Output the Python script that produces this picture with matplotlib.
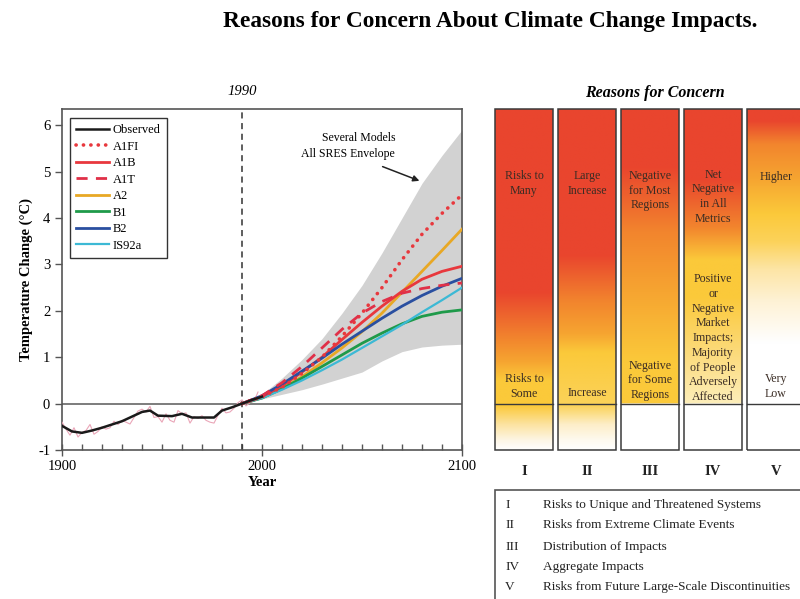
import numpy as np
import matplotlib
matplotlib.use("Agg")
import matplotlib.pyplot as plt
from matplotlib.colors import to_rgb
from matplotlib.patches import Rectangle

plt.rcParams['font.family'] = ['Liberation Serif', 'DejaVu Serif']
plt.rcParams['axes.unicode_minus'] = False

# ---------------- data ----------------
obs_years = [1900, 1905, 1910, 1915, 1920, 1925, 1930, 1935, 1940, 1944, 1948,
             1955, 1960, 1965, 1970, 1976, 1980, 1985, 1990, 1995, 2000]
obs_smooth = [-0.48, -0.60, -0.63, -0.58, -0.52, -0.45, -0.38, -0.28, -0.18, -0.15, -0.26,
              -0.27, -0.22, -0.30, -0.30, -0.30, -0.15, -0.08, 0.00, 0.08, 0.15]

annual_years = list(range(1900, 2000, 2))
annual_vals = [-0.40, -0.55, -0.68, -0.52, -0.72, -0.62, -0.58, -0.45, -0.66, -0.60,
               -0.50, -0.55, -0.52, -0.38, -0.45, -0.36, -0.40, -0.44, -0.30, -0.16,
               -0.12, -0.18, -0.06, -0.30, -0.28, -0.40, -0.22, -0.36, -0.40, -0.15,
               -0.22, -0.20, -0.42, -0.28, -0.32, -0.26, -0.36, -0.40, -0.42, -0.25,
               -0.10, -0.20, -0.18, -0.10, 0.02, 0.08, -0.05, 0.02, 0.05, 0.25]

proj_years = [1990, 2000, 2010, 2020, 2030, 2040, 2050, 2060, 2070, 2080, 2090, 2100]
a1fi = [0, 0.15, 0.35, 0.65, 1.00, 1.45, 1.95, 2.50, 3.10, 3.65, 4.10, 4.50]
a1b = [0, 0.15, 0.38, 0.68, 1.00, 1.38, 1.75, 2.10, 2.42, 2.68, 2.85, 2.96]
a1t = [0, 0.17, 0.45, 0.80, 1.20, 1.60, 1.95, 2.20, 2.38, 2.48, 2.55, 2.60]
a2 = [0, 0.13, 0.33, 0.58, 0.88, 1.20, 1.55, 1.95, 2.40, 2.85, 3.30, 3.76]
b1 = [0, 0.12, 0.32, 0.55, 0.80, 1.05, 1.30, 1.52, 1.72, 1.88, 1.97, 2.02]
b2 = [0, 0.17, 0.42, 0.70, 0.98, 1.28, 1.56, 1.84, 2.10, 2.33, 2.53, 2.70]
is92a = [0, 0.12, 0.30, 0.50, 0.72, 0.95, 1.20, 1.45, 1.70, 1.97, 2.23, 2.50]

env_upper = [0, 0.20, 0.55, 0.95, 1.40, 1.95, 2.55, 3.25, 4.00, 4.75, 5.35, 5.90]
env_lower = [0, 0.10, 0.20, 0.30, 0.42, 0.55, 0.68, 0.92, 1.12, 1.22, 1.26, 1.28]

columns = ['I', 'II', 'III', 'IV', 'V']
upper_labels = ['Risks to\nMany', 'Large\nIncrease', 'Negative\nfor Most\nRegions',
                'Net\nNegative\nin All\nMetrics', 'Higher']
upper_label_y = [4.74, 4.74, 4.59, 4.46, 4.89]
lower_labels = ['Risks to\nSome', 'Increase', 'Negative\nfor Some\nRegions',
                'Positive\nor\nNegative\nMarket\nImpacts;\nMajority\nof People\nAdversely\nAffected',
                'Very\nLow']
lower_label_y = [0.37, 0.22, 0.50, 1.41, 0.37]
reason_names = ['Risks to Unique and Threatened Systems',
                'Risks from Extreme Climate Events',
                'Distribution of Impacts',
                'Aggregate Impacts',
                'Risks from Future Large-Scale Discontinuities']

# ---------------- figure ----------------
fig = plt.figure(figsize=(8, 5.99), dpi=100)
YLIM = (-1, 6.35)

def fy(p):
    return 1 - p / 599.0

ax = fig.add_axes([62 / 800, fy(450), 400 / 800, 341 / 599])
ax.set_xlim(1900, 2100)
ax.set_ylim(*YLIM)

ax.fill_between(proj_years, env_lower, env_upper, color='#d2d2d2', lw=0, zorder=1)
ax.axhline(0, color='#666666', lw=1.2, zorder=2)
ax.axvline(1990, color='#333333', lw=1.1, dashes=(4, 3), zorder=2)

ax.plot(annual_years, annual_vals, color='#eaa6b8', lw=0.8, zorder=3)
ax.plot(obs_years, obs_smooth, color='#1a1a1a', lw=1.8, label='Observed', zorder=8)
ax.plot(proj_years, a1fi, color='#e8383d', lw=2.6, ls=(0, (0.05, 2.0)),
        dash_capstyle='round', label='A1FI', zorder=6)
ax.plot(proj_years, a1b, color='#e8383d', lw=2, label='A1B', zorder=5)
ax.plot(proj_years, a1t, color='#e03048', lw=2, dashes=(4, 3), label='A1T', zorder=6)
ax.plot(proj_years, a2, color='#e8a825', lw=2, label='A2', zorder=4)
ax.plot(proj_years, b1, color='#1f9a4a', lw=2, label='B1', zorder=4)
ax.plot(proj_years, b2, color='#2a4fa0', lw=2, label='B2', zorder=5)
ax.plot(proj_years, is92a, color='#3cb9d5', lw=1.6, label='IS92a', zorder=4)

leg = ax.legend(loc='upper left', bbox_to_anchor=(0.02, 0.974), borderaxespad=0,
                fontsize=9, handlelength=2.6, labelspacing=0.36, frameon=True,
                fancybox=False, edgecolor='#333333', framealpha=1, handletextpad=0.3,
                borderpad=0.5)
leg.get_frame().set_linewidth(1.0)

ax.annotate('', xy=(2080, 4.78), xytext=(2059, 5.13),
            arrowprops=dict(arrowstyle='-|>', color='#222222', lw=1.1, mutation_scale=9))
ax.text(2066.5, 5.72, 'Several Models', ha='right', va='center', fontsize=8.5)
ax.text(2066.5, 5.39, 'All SRES Envelope', ha='right', va='center', fontsize=8.5)

for s in ax.spines.values():
    s.set_color('#555555')
    s.set_linewidth(1.2)
ax.set_xticks([1900, 2000, 2100])
ax.set_xticks(list(range(1900, 2101, 10)), minor=True)
ax.set_yticks(list(range(-1, 7)))
ax.tick_params(axis='x', which='major', direction='inout', length=8, width=1,
               color='#555555', labelsize=10.5, pad=3)
ax.tick_params(axis='x', which='minor', direction='in', length=4, width=1, color='#555555')
ax.tick_params(axis='y', direction='out', length=5, width=1, color='#555555', labelsize=10.5)
ax.set_xlabel('Year', fontsize=10.5, fontweight='bold', labelpad=2)
ax.set_ylabel('Temperature Change (°C)', fontsize=10.5, fontweight='bold', labelpad=4)
ax.text(1990, 6.72, '1990', ha='center', va='center', fontsize=10.5, style='italic',
        clip_on=False)

# ---------------- reasons for concern panel ----------------
RED = '#e9452e'
ORANGE = '#f2852d'
YORANGE = '#f6a531'
YELLOW = '#fbc93a'
WHITE = '#ffffff'

shading = [
    [(-1, WHITE), (-0.8, '#fdf6e6'), (-0.45, '#fce3a0'), (-0.05, YELLOW), (0.5, YELLOW),
     (0.9, YORANGE), (1.4, ORANGE), (2.4, RED), (6.35, RED)],
    [(-1, WHITE), (-0.8, '#fefaf0'), (-0.45, '#fdeec8'), (-0.05, '#fbd35a'), (1.1, YELLOW),
     (1.5, YORANGE), (2.2, ORANGE), (3.2, RED), (6.35, RED)],
    [(-1, WHITE), (-0.001, WHITE), (0, YELLOW), (0.9, YELLOW), (2.4, YORANGE),
     (3.7, ORANGE), (5.1, RED), (6.35, RED)],
    [(-1, WHITE), (-0.001, WHITE), (0, '#fdeeba'), (1.0, '#fcdc80'), (2.3, YELLOW),
     (3.1, YELLOW), (3.8, ORANGE), (4.85, RED), (6.35, RED)],
    [(-1, WHITE), (1.3, WHITE), (2.2, '#fef2d6'), (2.9, '#fde5a5'), (3.5, '#fcd25a'),
     (4.1, YELLOW), (4.85, YORANGE), (5.6, ORANGE), (6.1, RED), (6.35, RED)],
]

ax2 = fig.add_axes([492.5 / 800, fy(450), 315 / 800, 341 / 599])
ax2.set_xlim(-0.5, 4.5)
ax2.set_ylim(*YLIM)
ax2.axis('off')

yy = np.linspace(YLIM[0], YLIM[1], 600)
half = 0.4525
for i, stops in enumerate(shading):
    sv = [s[0] for s in stops]
    rgb = np.array([to_rgb(s[1]) for s in stops])
    img = np.stack([np.interp(yy, sv, rgb[:, k]) for k in range(3)], axis=-1)
    ax2.imshow(img[:, None, :], extent=(i - half, i + half, YLIM[0], YLIM[1]),
               origin='lower', aspect='auto', interpolation='bilinear', zorder=1)
    ax2.add_patch(Rectangle((i - half, YLIM[0]), 2 * half, YLIM[1] - YLIM[0],
                            fill=False, ec='#3a3a3a', lw=1.1, zorder=3, clip_on=False))
    ax2.plot([i - half, i + half], [0, 0], color='#3a3a3a', lw=1.0, zorder=3)
    ax2.text(i, upper_label_y[i], upper_labels[i], ha='center', va='center',
             fontsize=8.6, color='#3a2c24', linespacing=1.3, zorder=4)
    ax2.text(i, lower_label_y[i], lower_labels[i], ha='center', va='center',
             fontsize=8.6, color='#3a2c24', linespacing=1.3, zorder=4)
    ax2.text(i, -1.46, columns[i], ha='center', va='center', fontsize=10.5,
             fontweight='bold', color='#222222', clip_on=False)
ax2.set_xlim(-0.5, 4.5)
ax2.set_ylim(*YLIM)

fig.text(655 / 800, fy(93), 'Reasons for Concern', ha='center', va='center',
         fontsize=11.5, style='italic', fontweight='bold')

# key to the numerals
fig.add_artist(Rectangle((495 / 800, -0.05), 0.5, fy(490) + 0.05,
                         transform=fig.transFigure, fill=False, ec='#555555', lw=1.2))
row_px = [505, 525, 547, 567, 587]
for num, name, p in zip(columns, reason_names, row_px):
    fig.text(505 / 800, fy(p), num, ha='left', va='center', fontsize=9.5, color='#222222')
    fig.text(543 / 800, fy(p), name, ha='left', va='center', fontsize=9.5, color='#222222')

fig.text(490 / 800, fy(22), 'Reasons for Concern About Climate Change Impacts.',
         ha='center', va='center', fontsize=16.8, fontweight='bold')

fig.savefig('out.png', dpi=100)
